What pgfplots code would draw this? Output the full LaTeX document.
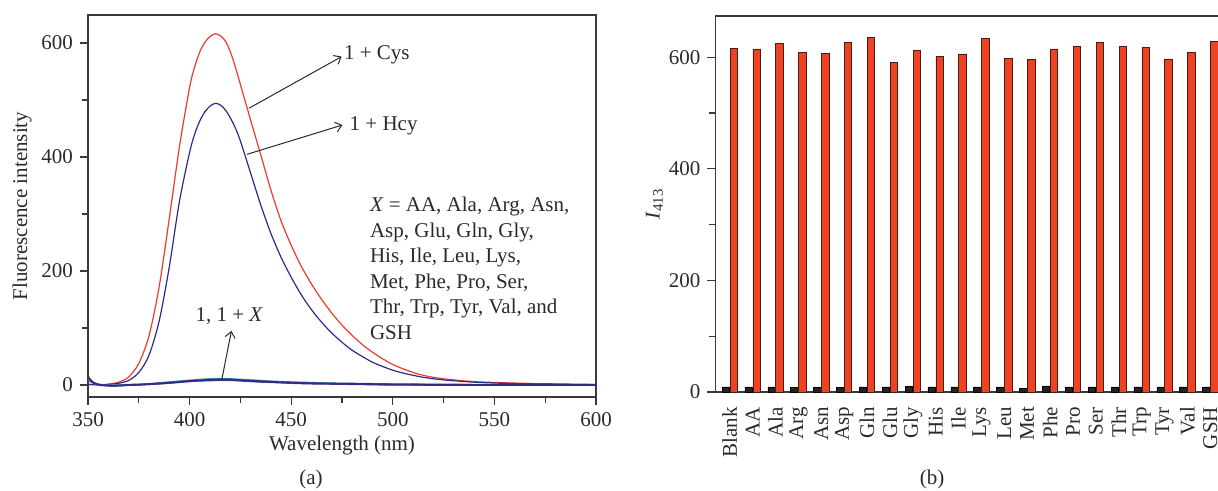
\documentclass[border=0pt]{standalone}
\usepackage{pgfplots}
\pgfplotsset{compat=1.18}
\usepackage{fontspec}
\setmainfont{Liberation Serif}
\usetikzlibrary{arrows.meta}
\definecolor{cysred}{HTML}{EE3B2A}
\definecolor{hcyblue}{HTML}{2E2A8C}
\definecolor{barred}{HTML}{EE4223}
\definecolor{txt}{HTML}{2A2A2A}
\definecolor{axc}{HTML}{3A3A3A}
\begin{document}
\begin{tikzpicture}[font=\fontsize{10.5}{12.75}\selectfont]
\path[use as bounding box] (0pt,0pt) rectangle (609pt,245.5pt);
\pgfplotsset{every axis/.append style={
  /pgf/number format/assume math mode=true,
  axis line style={axc, line width=0.6pt},
  every tick/.style={axc, line width=0.6pt},
  tick align=outside, xtick pos=bottom, ytick pos=left,
  major tick length=4pt, minor tick length=3pt,
  tick label style={txt}, label style={txt},
}}
% ---------- (a) ----------
\begin{axis}[at={(44pt,47pt)}, anchor=south west, width=254pt, height=191pt, scale only axis,
  xmin=350, xmax=600, ymin=-21, ymax=649,
  xtick={350,400,...,600}, minor xtick={375,425,...,575},
  ytick={0,200,400,600}, minor ytick={100,300,500},
  xlabel={Wavelength (nm)}, ylabel={Fluorescence intensity},
  xlabel style={yshift=2pt}, ylabel style={yshift=-2pt},
  clip=true]
\addplot[cysred, line width=0.6pt, smooth] coordinates {
(350,1.5)(355,0.5)(360,1.5)(365,5)(370,14)(375,38)(380,86)(385,172)(390,292)(395,418)(400,522)(402.5,558)(405,584)(407.5,601)(410,611)(412.5,616)(415,613)(417.5,604)(420,585)(422.5,558)(425,527)(430,465)(435,404)(440,342)(445,288)(450,245)(455,208)(460,177)(465,150)(470,126)(475,105)(480,87)(485,71)(490,57.5)(495,46)(500,36)(505,28.5)(510,22)(515,17)(520,13.5)(525,11)(530,9)(540,6)(550,4.5)(560,3.5)(570,2.5)(580,2)(590,1.5)(600,1)};
\addplot[hcyblue, line width=0.6pt, smooth] coordinates {
(350,1)(355,0.3)(360,1)(365,3)(370,8)(375,22)(380,52)(385,112)(390,207)(395,322)(400,408)(402.5,440)(405,463)(407.5,479)(410,489)(412.5,494)(415,491.5)(417.5,483)(420,469)(422.5,451)(425,428)(430,372)(435,316)(440,266)(445,224)(450,189)(455,158)(460,132)(465,110)(470,91)(475,75)(480,61)(485,50)(490,40)(495,32.5)(500,26)(505,21)(510,17)(515,13.5)(520,11)(525,9)(530,7.5)(540,5)(550,3.5)(560,2.5)(570,2)(580,1.5)(590,1)(600,1)};
\addplot[color={rgb,255:red,60;green,140;blue,156}, line width=0.9pt, smooth] coordinates {
(350,10)(352,5)(355,1)(360,-0.5)(365,-0.5)(370,0.5)(375,1)(380,2)(385,3.5)(390,5)(395,6.5)(400,8)(405,9.5)(410,10.5)(415,11)(420,10.5)(425,9.5)(430,8.5)(435,7.5)(440,6.5)(450,5)(460,4)(470,3)(480,2.5)(490,2)(500,1.5)(520,1)(550,0.5)(600,0)};
\addplot[color={rgb,255:red,106;green,61;blue,154}, line width=0.9pt, smooth] coordinates {
(350,12)(352,5)(355,0.5)(360,-1)(365,-1)(370,0)(375,0.5)(380,1.5)(385,2.5)(390,3.5)(395,5)(400,6.5)(405,7.5)(410,8)(415,8.5)(420,8.5)(425,7.5)(430,6.5)(435,5.5)(440,5)(450,3.5)(460,2.5)(470,2)(480,1.5)(490,1)(500,0.5)(550,0)(600,0)};
\addplot[hcyblue, line width=0.9pt, smooth] coordinates {
(350,15)(352,6)(355,1)(360,-1)(365,-1)(370,0)(375,0.5)(380,1.5)(385,2.5)(390,4)(395,5.5)(400,7)(405,8)(410,9)(415,9.5)(420,9.5)(425,8.5)(430,7.5)(435,6.5)(440,5.5)(450,4)(460,3)(470,2.5)(480,2)(490,1.5)(500,1)(520,0.5)(550,0)(600,0)};
\draw[-{Straight Barb[length=3pt,width=5pt]}, txt, line width=0.5pt] (axis cs:429.2,485.4) -- (axis cs:474.8,576);
\draw[-{Straight Barb[length=3pt,width=5pt]}, txt, line width=0.5pt] (axis cs:428.3,404.7) -- (axis cs:475.2,456);
\draw[-{Straight Barb[length=3pt,width=5pt]}, txt, line width=0.5pt] (axis cs:415.8,8.8) -- (axis cs:420.6,95);
\node[anchor=west, txt, inner sep=0pt] at (axis cs:475.8,579) {1 + Cys};
\node[anchor=west, txt, inner sep=0pt] at (axis cs:478.6,454) {1 + Hcy};
\node[anchor=center, txt, inner sep=0pt] at (axis cs:419.5,121) {1, 1 + \textit{X}};
\node[anchor=north west, txt, inner sep=0pt, align=left] at (axis cs:488.6,330) {\textit{X} = AA, Ala, Arg, Asn,\\Asp, Glu, Gln, Gly,\\His, Ile, Leu, Lys,\\Met, Phe, Pro, Ser,\\Thr, Trp, Tyr, Val, and\\GSH};
\end{axis}
% ---------- (b) ----------
\begin{axis}[at={(357.7pt,49.5pt)}, anchor=south west, width=252pt, height=188pt, scale only axis,
  xmin=-0.626, xmax=21.4, ymin=0, ymax=674,
  axis x line*=bottom, axis y line*=left,
  ybar, bar width=3.7pt,
  xtick={0,...,21}, xticklabels={Blank,AA,Ala,Arg,Asn,Asp,Gln,Glu,Gly,His,Ile,Lys,Leu,Met,Phe,Pro,Ser,Thr,Trp,Tyr,Val,GSH},
  x tick label style={rotate=90, anchor=east, yshift=0pt},
  major x tick style={draw=none},
  ytick={0,200,400,600}, minor ytick={100,300,500},
  ylabel={\textit{I}\textsubscript{413}}, ylabel style={yshift=-4pt},
  clip=false]
\draw[axc, line width=0.6pt] (rel axis cs:0,1) -- (rel axis cs:1,1);
\addplot[fill={rgb,255:red,34;green,34;blue,34}, draw=black, line width=0.3pt, bar shift=-2pt] coordinates {
(0,9)(1,9)(2,9)(3,8)(4,8)(5,8)(6,9)(7,9)(8,10)(9,9)(10,9)(11,9)(12,9)(13,7)(14,11)(15,9)(16,9)(17,9)(18,9)(19,9)(20,9)(21,9)};
\addplot[fill=barred, draw={rgb,255:red,70;green,30;blue,25}, line width=0.4pt, bar shift=2pt] coordinates {
(0,616)(1,615)(2,624)(3,608)(4,607)(5,627)(6,636)(7,591)(8,612)(9,602)(10,606)(11,634)(12,598)(13,596)(14,615)(15,620)(16,627)(17,620)(18,618)(19,597)(20,608)(21,629)};
\end{axis}
\node[txt] at (155.5pt,6pt) {(a)};
\node[txt] at (466pt,6pt) {(b)};
\end{tikzpicture}
\end{document}
